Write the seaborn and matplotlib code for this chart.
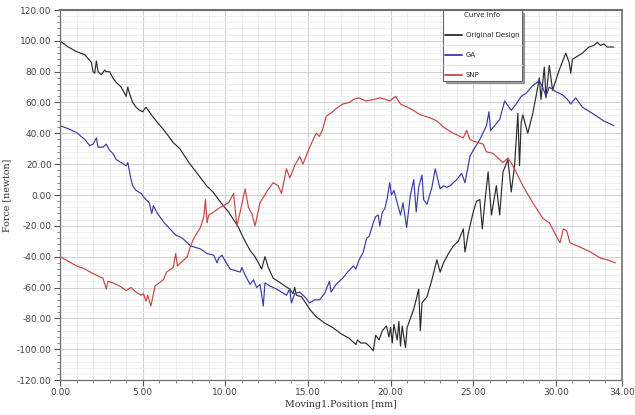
import numpy as np
import pandas as pd
import matplotlib
matplotlib.use("Agg")
import matplotlib.pyplot as plt
from matplotlib.ticker import MultipleLocator, FormatStrFormatter
import seaborn as sns

# ---------------- data ----------------
orig_x = [0.0, 0.5, 1.0, 1.5, 1.9, 2.0, 2.1, 2.2, 2.3, 2.5, 2.7, 2.8, 3.0, 3.2, 3.4, 3.7, 3.9, 4.0,
          4.1, 4.2, 4.4, 4.6, 4.8, 5.0, 5.2, 5.4, 5.6, 5.9, 6.3, 6.85, 7.25, 7.8, 8.3, 8.87, 9.25,
          9.6, 9.88, 10.2, 10.5, 10.8, 11.1, 11.5, 11.8, 12.0, 12.2, 12.4, 12.6, 12.9, 13.2, 13.6,
          13.9, 14.1, 14.2, 14.3, 14.6, 14.8, 15.1, 15.5, 16.0, 16.5, 17.0, 17.5, 17.9, 18.0, 18.2,
          18.5, 18.8, 18.95, 19.1, 19.3, 19.5, 19.75, 19.9, 20.0, 20.1, 20.2, 20.4, 20.5, 20.6,
          20.7, 20.9, 21.0, 21.2, 21.4, 21.5, 21.7, 21.8, 21.9, 22.2, 22.5, 22.8, 23.0, 23.2, 23.5,
          23.8, 24.1, 24.4, 24.5, 24.7, 25.0, 25.2, 25.4, 25.55, 25.7, 25.9, 26.1, 26.4, 26.6,
          26.8, 27.1, 27.3, 27.5, 27.7, 27.8, 27.9, 28.0, 28.3, 28.6, 28.8, 29.0, 29.1, 29.3, 29.4,
          29.6, 29.8, 30.2, 30.6, 30.8, 30.9, 31.0, 31.3, 31.6, 32.0, 32.3, 32.5, 32.7, 32.9, 33.1,
          33.5]
orig_y = [100, 96, 93, 91, 86, 80, 79, 87, 80, 78, 81, 80, 80, 76, 73, 70, 66, 64,
          70, 66, 60, 57, 55, 54, 57, 54, 51, 47, 42, 34, 30, 21, 14, 6, 2,
          -3, -7, -11, -16, -21, -28, -36, -40, -44, -48, -40, -47, -54, -56, -59,
          -61, -64, -60, -65, -66, -69, -74, -79, -83, -86, -90, -93, -97, -94, -96,
          -96, -99, -101, -91, -94, -88, -85, -92, -86, -96, -84, -94, -82, -98,
          -85, -99, -86, -80, -74, -70, -61, -88, -70, -66, -55, -42, -50, -44, -38,
          -33, -30, -22, -37, -25, -11, -4, -3, -22, -5, 15, -13, 6, -13,
          15, 23, 2, 19, 53, 19, 47, 52, 40, 53, 64, 76, 62, 83, 63,
          84, 68, 81, 92, 86, 79, 88, 90, 92, 96, 97, 99, 97, 98, 96,
          96]

ga_x = [0.0, 0.5, 1.0, 1.5, 1.8, 2.0, 2.2, 2.3, 2.6, 2.8, 3.0, 3.2, 3.4, 3.7, 4.0, 4.1, 4.3, 4.4,
        4.6, 4.9, 5.2, 5.4, 5.55, 5.65, 5.9, 6.3, 6.65, 7.0, 7.4, 7.9, 8.5, 8.9, 9.3, 9.5, 9.6,
        9.8, 10.0, 10.3, 10.6, 10.9, 11.0, 11.2, 11.5, 11.7, 11.9, 12.1, 12.3, 12.4, 12.7, 13.1,
        13.4, 13.7, 13.9, 14.0, 14.2, 14.5, 14.8, 15.1, 15.4, 15.7, 16.0, 16.3, 16.4, 16.7, 17.1,
        17.4, 17.75, 17.9, 18.1, 18.35, 18.55, 18.7, 18.95, 19.1, 19.25, 19.35, 19.5, 19.65,
        19.8, 19.95, 20.05, 20.2, 20.4, 20.6, 20.75, 20.97, 21.2, 21.4, 21.55, 21.7, 21.9, 22.0,
        22.2, 22.5, 22.7, 23.0, 23.2, 23.4, 23.6, 24.0, 24.3, 24.5, 24.8, 25.0, 25.4, 25.8,
        25.95, 26.05, 26.3, 26.6, 26.9, 27.3, 27.6, 27.9, 28.2, 28.6, 29.0, 29.2, 29.4, 29.6,
        30.0, 30.4, 30.7, 30.9, 31.2, 31.6, 32.2, 32.9, 33.5]
ga_y = [45, 43, 40.5, 36, 32, 33, 37, 31, 31, 33, 29, 27, 23, 21, 19, 21, 10, 6,
        3, 1, -3, -5, -12, -7, -12, -18, -22, -26, -28, -33, -35, -38, -39, -44, -41,
        -39, -43, -48, -49, -50, -47, -52, -58, -55, -60, -58, -72, -57, -59, -61,
        -63, -65, -61, -70, -64, -63, -66, -70, -68, -68, -64, -56, -63, -58, -54,
        -50, -46, -48, -42, -37, -28, -27, -18, -14, -13, -20, -11, -9,
        -2, 8, 0, 3, -5, -13, -5, -21, 0, 10, -11, 5, 13, -3,
        -6, 5, 17, 4, 6, 5, 6, 10, 14, 8, 25, 29, 36, 45,
        54, 42, 45, 49, 61, 55, 59, 64, 66, 71, 74, 70, 64, 70,
        67, 65, 62, 59, 63, 57, 53, 48, 45]

snp_x = [0.0, 0.5, 1.0, 1.5, 2.0, 2.4, 2.6, 2.8, 2.9, 3.2, 3.6, 4.0, 4.3, 4.6, 4.9, 5.05, 5.2,
         5.3, 5.5, 5.75, 6.0, 6.25, 6.45, 6.85, 7.0, 7.1, 7.4, 7.7, 7.9, 8.1, 8.5, 8.7, 8.8,
         8.9, 9.0, 9.3, 9.7, 10.2, 10.5, 10.7, 10.9, 11.2, 11.4, 11.6, 11.8, 12.1, 12.5, 12.9,
         13.2, 13.4, 13.7, 13.9, 14.2, 14.5, 14.7, 15.1, 15.5, 15.7, 15.9, 16.1, 16.5, 16.7,
         17.1, 17.5, 17.75, 18.1, 18.5, 19.0, 19.35, 19.7, 19.95, 20.3, 20.6, 21.2, 21.8, 22.4,
         22.8, 23.2, 23.8, 24.2, 24.4, 24.6, 24.8, 25.0, 25.6, 25.8, 26.2, 26.8, 27.1, 27.4,
         28.0, 28.6, 29.2, 29.6, 30.0, 30.25, 30.45, 30.65, 30.85, 31.5, 32.1, 32.7, 33.1, 33.6]
snp_y = [-40, -43, -46, -48, -51, -53, -54, -61, -56, -57, -59, -62, -60, -63, -65, -64, -69,
         -65, -72, -59, -57, -55, -50, -47, -38, -46, -43, -40, -33, -28, -21, -14, -3,
         -18, -13, -11, -8, -5, 1, -20, -11, 4, -8, -12, -20, -5, 2, 8,
         6, 1, 17, 11, 19, 25, 20, 31, 40, 38, 43, 51, 54, 56,
         59, 60, 62, 63, 61, 62, 63, 62, 61, 64, 59, 56, 52, 50,
         48, 44, 40, 38, 37, 42, 36, 35, 33, 28, 27, 21, 24, 19,
         6, -5, -15, -18, -26, -31, -22, -23, -31, -34, -37, -41, -42, -44]

series_names = ["Original Design", "GA", "SNP"]
series_colors = ["#2b2b2b", "#3a3aa8", "#c84444"]
x_ticks = [0, 5, 10, 15, 20, 25, 30, 34]

# ---------------- plot ----------------
sns.set_style("white")
plt.rcParams["font.family"] = ["DejaVu Sans"]

fig = plt.figure(figsize=(6.35, 4.15), dpi=100)
ax = fig.add_axes([60 / 635, 1 - 380 / 415, (622 - 60) / 635, 370 / 415])

frames = []
for name, xs, ys in zip(series_names, [orig_x, ga_x, snp_x], [orig_y, ga_y, snp_y]):
    frames.append(pd.DataFrame({"x": xs, "y": ys, "curve": name}))
df = pd.concat(frames, ignore_index=True)

sns.lineplot(data=df, x="x", y="y", hue="curve", hue_order=series_names,
             palette=series_colors, estimator=None, sort=False, linewidth=0.85, ax=ax)

ax.set_xlim(0, 34)
ax.set_ylim(-120, 120)
ax.set_xticks(x_ticks)
ax.set_yticks(np.arange(-120, 121, 20))
ax.xaxis.set_minor_locator(MultipleLocator(1))
ax.yaxis.set_minor_locator(MultipleLocator(4))
ax.xaxis.set_major_formatter(FormatStrFormatter("%.2f"))
ax.yaxis.set_major_formatter(FormatStrFormatter("%.2f"))

ax.grid(True, which="major", color="#d2d2d2", linewidth=0.8)
ax.grid(True, which="minor", color="#ececec", linewidth=0.6)
ax.set_axisbelow(True)

for s in ax.spines.values():
    s.set_color("#707070")
    s.set_linewidth(0.9)
ax.spines["top"].set_linewidth(1.5)
ax.spines["right"].set_linewidth(1.2)

ax.tick_params(which="major", direction="out", length=4, width=0.8, color="#555555",
               labelsize=6.5, labelcolor="#444444", pad=2, bottom=True, left=True)
ax.tick_params(which="minor", direction="out", length=2, width=0.6, color="#777777",
               bottom=True, left=True)

ax.set_xlabel("Moving1.Position [mm]", family="DejaVu Serif", fontsize=6.8,
              color="#333333", labelpad=2)
ax.set_ylabel("Force [newton]", family="DejaVu Serif", fontsize=6.8,
              color="#333333", labelpad=4)

handles, labels = ax.get_legend_handles_labels()
leg = ax.legend(handles, labels, title="Curve Info", loc="upper left",
                bbox_to_anchor=(443 / 635, 1 - 10 / 415), bbox_transform=fig.transFigure,
                fontsize=5, title_fontsize=5, frameon=True, fancybox=False,
                shadow=True, framealpha=1, edgecolor="#666666",
                labelspacing=2.0, handlelength=2.4, borderpad=0.35, handletextpad=0.5,
                borderaxespad=0)
leg.get_frame().set_linewidth(0.8)
for line in leg.get_lines():
    line.set_linewidth(1.3)

# thin separators between legend rows
fig.canvas.draw()
bb = leg.get_window_extent().transformed(fig.transFigure.inverted())
texts = leg.get_texts()
for a, b in zip(texts[:-1], texts[1:]):
    ea = a.get_window_extent().transformed(fig.transFigure.inverted())
    eb = b.get_window_extent().transformed(fig.transFigure.inverted())
    ysep = (ea.y0 + eb.y1) / 2
    fig.add_artist(plt.Line2D([bb.x0, bb.x1], [ysep, ysep], color="#e0e0e0",
                              linewidth=0.6, transform=fig.transFigure, zorder=10))

fig.savefig("out.png", dpi=100, facecolor="white")
